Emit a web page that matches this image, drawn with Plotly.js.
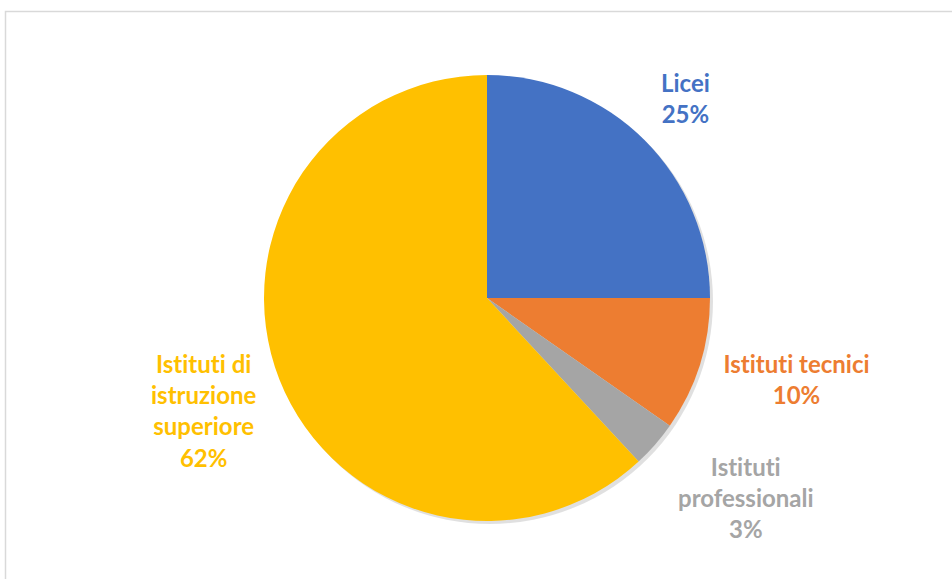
<!DOCTYPE html>
<html>
<head>
<meta charset="utf-8">
<script src="https://cdn.plot.ly/plotly-3.0.1.min.js"></script>
<style>
html,body{margin:0;padding:0;background:#fff;}
#chart{width:952px;height:579px;}
#chart text{font-variant-ligatures:none;font-feature-settings:"liga" 0, "clig" 0;}
</style>
</head>
<body>
<div id="chart"></div>
<script>
const categories = ["Licei", "Istituti tecnici", "Istituti professionali", "Istituti di istruzione superiore"];
const labelText = ["Licei", "Istituti tecnici", "Istituti<br>professionali", "Istituti di<br>istruzione<br>superiore"];
const shares = [25.0, 9.7, 3.4, 61.9];
const colors = ["#4472C4", "#ED7D31", "#A5A5A5", "#FFC000"];
const labelPos = [[685, 98], [796, 379], [746, 498], [204, 410]];

const W = 952, H = 579;
const cx = 487, cy = 298, r = 223;
const dom = {x: [(cx - r) / W, (cx + r) / W], y: [(H - cy - r) / H, (H - cy + r) / H]};
const off = 3;
const domShadow = {x: [(cx - r + off) / W, (cx + r + off) / W], y: [(H - cy - r - off) / H, (H - cy + r - off) / H]};

const total = shares.reduce((a, b) => a + b, 0);

const shadow = {
  type: 'pie', values: [1], labels: ['s'], sort: false, hoverinfo: 'skip', textinfo: 'none',
  marker: {colors: ['rgba(0,0,0,0.12)'], line: {width: 0}}, domain: domShadow, showlegend: false
};
const pie = {
  type: 'pie', labels: categories, values: shares, sort: false, direction: 'clockwise', rotation: 0,
  textinfo: 'none', hoverinfo: 'label+percent',
  marker: {colors: colors, line: {width: 0}}, domain: dom, showlegend: false
};

const annotations = categories.map((c, i) => ({
  xref: 'paper', yref: 'paper',
  x: labelPos[i][0] / W, y: 1 - labelPos[i][1] / H,
  xanchor: 'center', yanchor: 'middle', showarrow: false, align: 'center',
  text: '<b>' + labelText[i] + '<br>' + Math.round(shares[i] / total * 100) + '%</b>',
  font: {family: 'Lato, "Open Sans", sans-serif', size: 24, color: colors[i]}
}));

const layout = {
  width: W, height: H, margin: {l: 0, r: 0, t: 0, b: 0},
  paper_bgcolor: '#ffffff', plot_bgcolor: '#ffffff',
  showlegend: false, annotations: annotations,
  shapes: [{type: 'rect', xref: 'paper', yref: 'paper', x0: 5.5 / W, x1: 1.05, y0: -0.05, y1: 1 - 11.5 / H,
    line: {color: '#D9D9D9', width: 1.5}, fillcolor: 'rgba(0,0,0,0)', layer: 'below'}]
};

Plotly.newPlot('chart', [shadow, pie], layout, {staticPlot: true, displayModeBar: false});
</script>
</body>
</html>
